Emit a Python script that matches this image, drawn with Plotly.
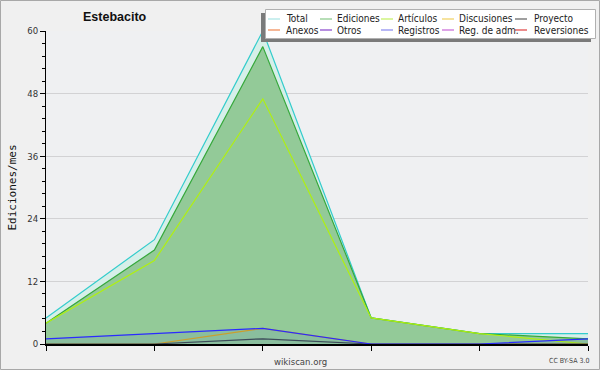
import plotly.graph_objects as go

# ---- data ----
periods = [0, 1, 2, 3, 4, 5]
total = [5, 20, 60, 5, 2, 2]
ediciones = [4, 18, 57, 5, 2, 1]
articulos = [4, 16, 47, 5, 2, 0]
discusiones = [0, 0, 3, 0, 0, 0]
proyecto = [0, 0, 1, 0, 0, 0]
registros = [1, 2, 3, 0, 0, 1]

y_ticks = [0, 12, 24, 36, 48, 60]

legend_row1 = ["Total", "Ediciones", "Artículos", "Discusiones", "Proyecto"]
legend_row2 = ["Anexos", "Otros", "Registros", "Reg. de adm.", "Reversiones"]
legend_col1 = ["#a8e4e4", "#88c888", "#c4f060", "#f0d060", "#606060"]
legend_col2 = ["#f08850", "#8844cc", "#8888f0", "#c866d8", "#e04040"]

title_text = "Estebacito"
y_title = "Ediciones/mes"

# ---- geometry helpers (pixels -> paper) ----
W, H = 600, 370
L, R, T, B = 46, 12, 31, 26
PW, PH = W - L - R, H - T - B


def px(x):
    return (x - L) / PW


def py(y):
    return (H - B - y) / PH


fig = go.Figure()

fig.add_trace(go.Scatter(x=periods, y=total, mode="lines", fill="tozeroy",
                         fillcolor="#d6efe9", line=dict(color="#33cccc", width=1.2),
                         name="Total", showlegend=False))
fig.add_trace(go.Scatter(x=periods, y=ediciones, mode="lines", fill="tozeroy",
                         fillcolor="#93ca98", line=dict(color="#35a83a", width=1.2),
                         name="Ediciones", showlegend=False))
fig.add_trace(go.Scatter(x=periods, y=articulos, mode="lines",
                         line=dict(color="#b0f010", width=1.2),
                         name="Artículos", showlegend=False))
fig.add_trace(go.Scatter(x=periods, y=discusiones, mode="lines",
                         line=dict(color="#d8a820", width=1.2),
                         name="Discusiones", showlegend=False))
fig.add_trace(go.Scatter(x=periods, y=proyecto, mode="lines",
                         line=dict(color="#405050", width=1.2),
                         name="Proyecto", showlegend=False))
fig.add_trace(go.Scatter(x=periods, y=registros, mode="lines", fill="tozeroy",
                         fillcolor="rgba(0,0,255,0.06)",
                         line=dict(color="#2a2aff", width=1.2),
                         name="Registros", showlegend=False))

shapes = []
annotations = []

# outer border
shapes.append(dict(type="rect", xref="paper", yref="paper",
                   x0=px(0.5), x1=px(W - 0.5), y0=py(H - 0.5), y1=py(0.5),
                   line=dict(color="#a8a8a8", width=1), layer="below"))

# legend box shadow + box
shapes.append(dict(type="rect", xref="paper", yref="paper",
                   x0=px(261), x1=px(591), y0=py(42), y1=py(13),
                   fillcolor="#7a7a7a", line=dict(width=0)))
shapes.append(dict(type="rect", xref="paper", yref="paper",
                   x0=px(265.5), x1=px(595.5), y0=py(38.5), y1=py(9.5),
                   fillcolor="#ffffff", line=dict(color="#b0b0b0", width=1)))

col_line_x = [268, 320, 381, 442, 515]
col_text_x = [284, 335, 396, 457, 532]
row_y = [19, 30]
for rows, cols, yy in ((legend_row1, legend_col1, row_y[0]), (legend_row2, legend_col2, row_y[1])):
    for i, (lab, c) in enumerate(zip(rows, cols)):
        shapes.append(dict(type="line", xref="paper", yref="paper",
                           x0=px(col_line_x[i]), x1=px(col_line_x[i] + 12),
                           y0=py(yy), y1=py(yy), line=dict(color=c, width=1.2)))
        annotations.append(dict(text=lab, xref="paper", yref="paper",
                                x=px(col_text_x[i]), y=py(yy), xanchor="left", yanchor="middle",
                                showarrow=False,
                                font=dict(family="DejaVu Sans Condensed, DejaVu Sans", size=10, color="#222")))

# title
annotations.append(dict(text="<b>" + title_text + "</b>", xref="paper", yref="paper",
                        x=px(115), y=py(17), xanchor="center", yanchor="middle", showarrow=False,
                        font=dict(family="Liberation Sans, Arial", size=12.5, color="#111")))
# footer texts
annotations.append(dict(text="wikiscan.org", xref="paper", yref="paper",
                        x=px(300), y=py(361), xanchor="center", yanchor="middle", showarrow=False,
                        font=dict(family="DejaVu Sans Condensed, DejaVu Sans", size=9.5, color="#444")))
annotations.append(dict(text="CC BY-SA 3.0", xref="paper", yref="paper",
                        x=px(591), y=py(361), xanchor="right", yanchor="middle", showarrow=False,
                        font=dict(family="DejaVu Sans Condensed, DejaVu Sans", size=7, color="#444")))

fig.update_layout(
    width=W, height=H,
    margin=dict(l=L, r=R, t=T, b=B, pad=0, autoexpand=False),
    paper_bgcolor="#f0f0f0",
    plot_bgcolor="#eff0f2",
    showlegend=False,
    shapes=shapes,
    annotations=annotations,
    xaxis=dict(range=[periods[0], periods[-1]], tickvals=periods, showticklabels=False,
               ticks="outside", ticklen=5, tickcolor="#000", tickwidth=1, automargin=False,
               showgrid=False, zeroline=False, showline=True, linecolor="#000", linewidth=2,
               fixedrange=True),
    yaxis=dict(range=[0, 60], tickvals=y_ticks, ticktext=[str(v) for v in y_ticks],
               ticks="outside", ticklen=5, tickcolor="#000", tickwidth=1, automargin=False,
               minor=dict(dtick=2.4, tick0=0, ticks="outside", ticklen=3, tickcolor="#000", showgrid=False),
               showgrid=True, gridcolor="#d2d2d4", gridwidth=1,
               zeroline=False, showline=True, linecolor="#000", linewidth=1,
               tickfont=dict(family="DejaVu Sans Condensed, DejaVu Sans", size=9.5, color="#333"),
               title=dict(text=y_title, standoff=8,
                          font=dict(family="DejaVu Sans Mono", size=11, color="#111")),
               fixedrange=True),
)

fig.write_html("out.html", config={"displayModeBar": False},
               post_script="document.body.style.margin='0';document.body.style.overflow='hidden';")
